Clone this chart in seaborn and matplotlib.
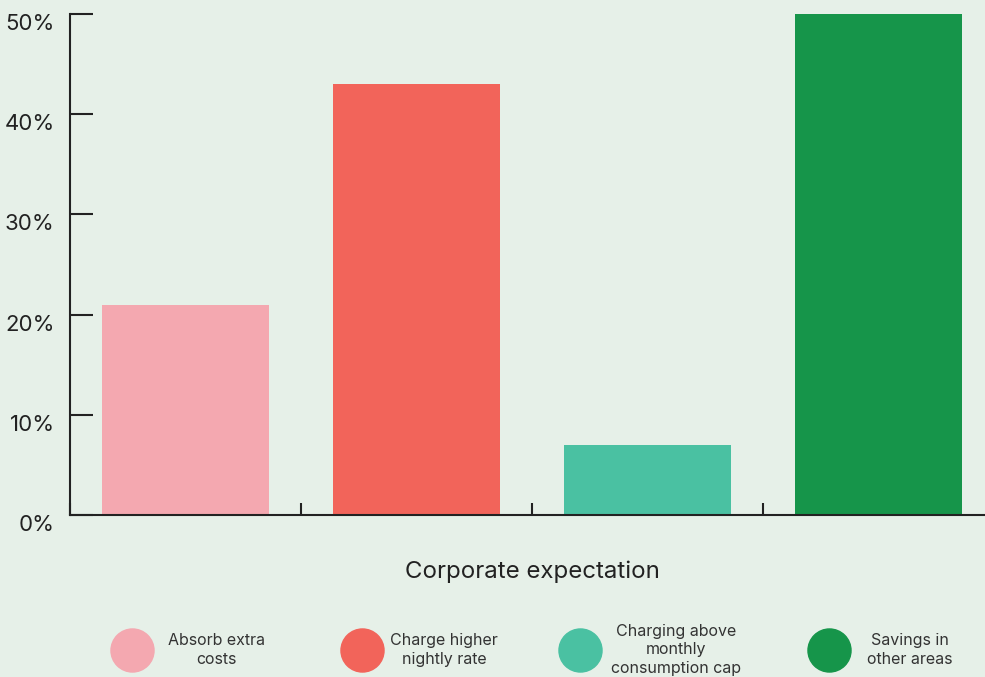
import matplotlib
matplotlib.use("Agg")
import matplotlib.pyplot as plt
from matplotlib.lines import Line2D
from matplotlib.ticker import PercentFormatter
import seaborn as sns
import pandas as pd

# ---------------- DATA ----------------
categories = ["Absorb extra costs", "Charge higher nightly rate",
              "Charging above monthly consumption cap", "Savings in other areas"]
legend_labels = ["Absorb extra\ncosts", "Charge higher\nnightly rate",
                 "Charging above\nmonthly\nconsumption cap", "Savings in\nother areas"]
values = [21, 43, 7, 50]
colors = ["#f4a8b0", "#f2645a", "#4ac1a2", "#16954a"]
y_ticks = [0, 10, 20, 30, 40, 50]

BG = "#e6f0e8"
INK = "#222222"

df = pd.DataFrame({"category": categories, "value": values})

# ---------------- STYLE ----------------
sns.set_style("ticks")
plt.rcParams["font.family"] = ["Inter", "DejaVu Sans"]

fig = plt.figure(figsize=(9.85, 6.77), dpi=100, facecolor=BG)
ax = fig.add_axes([0.0711, 0.2393, 0.938, 0.7400], facecolor=BG)

sns.barplot(data=df, x="category", y="value", hue="category",
            palette=colors, saturation=1, width=0.723, legend=False,
            linewidth=0, ax=ax)

ax.set_xlim(-0.5, 3.5)
ax.set_ylim(0, 50)
ax.set_yticks(y_ticks)
ax.yaxis.set_major_formatter(PercentFormatter(decimals=0))
ax.set_xticks([-0.5, 0.5, 1.5, 2.5, 3.5])
ax.set_xticklabels([])
ax.set_ylabel("")
ax.set_xlabel("Corporate expectation", fontsize=17.3, color=INK, labelpad=29)

for side in ["top", "right"]:
    ax.spines[side].set_visible(False)
for side in ["left", "bottom"]:
    ax.spines[side].set_color(INK)
    ax.spines[side].set_linewidth(1.5)

ax.tick_params(axis="y", direction="in", length=16.5, width=1.5, color=INK,
               labelsize=16, labelcolor=INK, pad=11)
ax.tick_params(axis="x", direction="in", length=9, width=1.5, color=INK)
for lab in ax.get_yticklabels():
    lab.set_verticalalignment("top")

# ---------------- LEGEND ----------------
circle_x = [0.134, 0.3675, 0.589, 0.8416]
text_x = [0.2193, 0.4508, 0.6863, 0.924]
leg_y = 0.040
for cx, tx, lab, col in zip(circle_x, text_x, legend_labels, colors):
    fig.add_artist(Line2D([cx], [leg_y], marker="o", markersize=31, color=col,
                          linestyle="none", transform=fig.transFigure))
    fig.text(tx, leg_y, lab, ha="center", va="center", multialignment="center",
             fontsize=11.5, color="#333333", linespacing=1.3)

plt.savefig("out.png", dpi=100, facecolor=BG)
